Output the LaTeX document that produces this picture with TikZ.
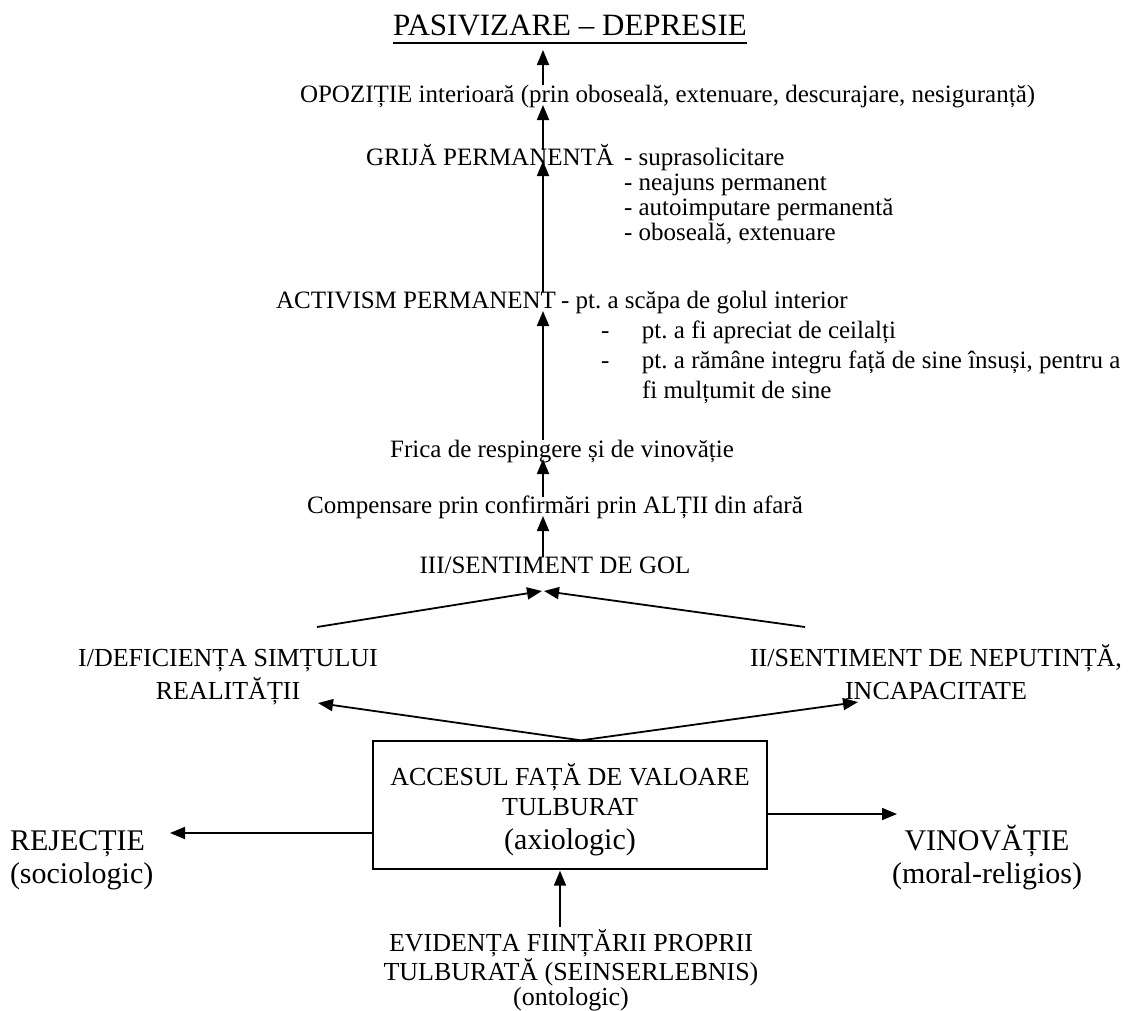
\documentclass[tikz,border=0pt]{standalone}
\usepackage{fontspec}
\setmainfont{Liberation Serif}
\usetikzlibrary{arrows.meta,calc}
\frenchspacing
\begin{document}
\frenchspacing
\begin{tikzpicture}[x=1pt,y=1pt,
  txt/.style={inner sep=0pt, outer sep=0pt, font=\fontsize{25}{25}\selectfont},
  mid/.style={inner sep=0pt, outer sep=0pt, font=\fontsize{26}{33}\selectfont},
  big/.style={inner sep=0pt, outer sep=0pt, font=\fontsize{30}{33}\selectfont},
  arr/.style={line width=1.8pt, -{Triangle[length=15pt,width=12pt]}},
  boxst/.style={draw, line width=1.3pt, inner sep=0pt, minimum width=394pt, minimum height=128pt}
]
\useasboundingbox (0,0) rectangle (1135,-1010);
\coordinate (sp) at (543,0);

% texts
\node[txt, font=\fontsize{31}{36}\selectfont, anchor=base] (title) at (570,-35) {PASIVIZARE – DEPRESIE};
\draw[line width=1.5pt] ($(title.base west)+(0,-8)$) -- ($(title.base east)+(0,-8)$);

\node[txt, anchor=base west] (opoz) at (300,-102) {OPOZIȚIE interioară (prin oboseală, extenuare, descurajare, nesiguranță)};

\node[txt, anchor=base east] (grija) at (614,-165) {GRIJĂ PERMANENTĂ};
\node[txt, anchor=base west] (grl) at (624,-165) {\begin{tabular}[t]{@{}l@{}}- suprasolicitare\\- neajuns permanent\\- autoimputare permanentă\\- oboseală, extenuare\end{tabular}};

\node[txt, anchor=base east] (act) at (556,-308) {ACTIVISM PERMANENT};
\node[txt, anchor=base west] (actl) at (561,-308) {- pt. a scăpa de golul interior};
\node[txt, font=\fontsize{25}{30}\selectfont, anchor=base west] (act2) at (601,-338) {\begin{tabular}[t]{@{}p{41pt}@{}l@{}}-&pt. a fi apreciat de ceilalți\\-&pt. a rămâne integru față de sine însuși, pentru a\\&fi mulțumit de sine\end{tabular}};

\node[txt, anchor=base] (frica) at (562,-457) {Frica de respingere și de vinovăție};
\node[txt, anchor=base] (comp) at (555,-513) {Compensare prin confirmări prin ALȚII din afară};
\node[txt, anchor=base] (iii) at (555,-573) {III/SENTIMENT DE GOL};

\node[mid, anchor=base] (idef) at (228,-666) {\begin{tabular}[t]{@{}c@{}}I/DEFICIENȚA SIMȚULUI\\REALITĂȚII\end{tabular}};
\node[mid, anchor=base] (iis) at (936,-666) {\begin{tabular}[t]{@{}c@{}}II/SENTIMENT DE NEPUTINȚĂ,\\INCAPACITATE\end{tabular}};

\node[boxst, font=\fontsize{26}{30}\selectfont] (box) at (570,-805) {\raisebox{-12.5pt}[0pt][0pt]{\begin{tabular}{@{}c@{}}ACCESUL FAȚĂ DE VALOARE\\TULBURAT\\[4pt]{\fontsize{30}{34}\selectfont (axiologic)}\end{tabular}}};

\node[big, anchor=base west] (rej) at (10,-850) {\begin{tabular}[t]{@{}l@{}}REJECȚIE\\(sociologic)\end{tabular}};
\node[big, anchor=base] (vin) at (987,-850) {\begin{tabular}[t]{@{}c@{}}VINOVĂȚIE\\(moral-religios)\end{tabular}};

\node[mid, font=\fontsize{26}{24}\selectfont, anchor=base] (evid) at (571,-951) {\begin{tabular}[t]{@{}c@{}}EVIDENȚA FIINȚĂRII PROPRII\\TULBURATĂ (SEINSERLEBNIS)\\(ontologic)\end{tabular}};

% vertical spine arrows
\draw[arr] ($(opoz.base -| sp)+(0,17)$) -- ($(title.base -| sp)+(0,-15)$);
\draw[arr] ($(grija.base -| sp)+(0,15)$) -- ($(opoz.base -| sp)+(0,-3)$);
\draw[arr] ($(act.base -| sp)+(0,16)$) -- ($(grija.base -| sp)+(0,4)$);
\draw[arr] ($(frica.base -| sp)+(0,17)$) -- ($(act.base -| sp)+(0,-3)$);
\draw[arr] ($(comp.base -| sp)+(0,16)$) -- ($(frica.base -| sp)+(0,-2)$);
\draw[arr] ($(iii.base -| sp)+(0,16)$) -- ($(comp.base -| sp)+(0,-3)$);

% converging
\coordinate (cl) at ($(idef.base)+(89,39)$);
\coordinate (cr) at ($(iis.base)+(-131,39)$);
\draw[arr] (cl) -- ($(iii.base)+(-13,-18)$);
\draw[arr] (cr) -- ($(iii.base)+(-11,-18)$);

% diverging
\coordinate (apex) at ($(box.north)+(11,0)$);
\draw[arr] (apex) -- ($(idef.base)+(90,-37)$);
\draw[arr] (apex) -- ($(iis.base)+(-78,-36)$);

% side arrows
\draw[arr] ($(box.west)+(0,-28)$) -- ($(rej.base west)+(160,17)$);
\draw[arr] ($(box.east)+(0,-9)$) -- ($(vin.base)+(-90,36)$);

% bottom arrow
\draw[arr] ($(evid.base)+(-11,24)$) -- ($(box.south)+(-10,-1)$);
\end{tikzpicture}
\end{document}
